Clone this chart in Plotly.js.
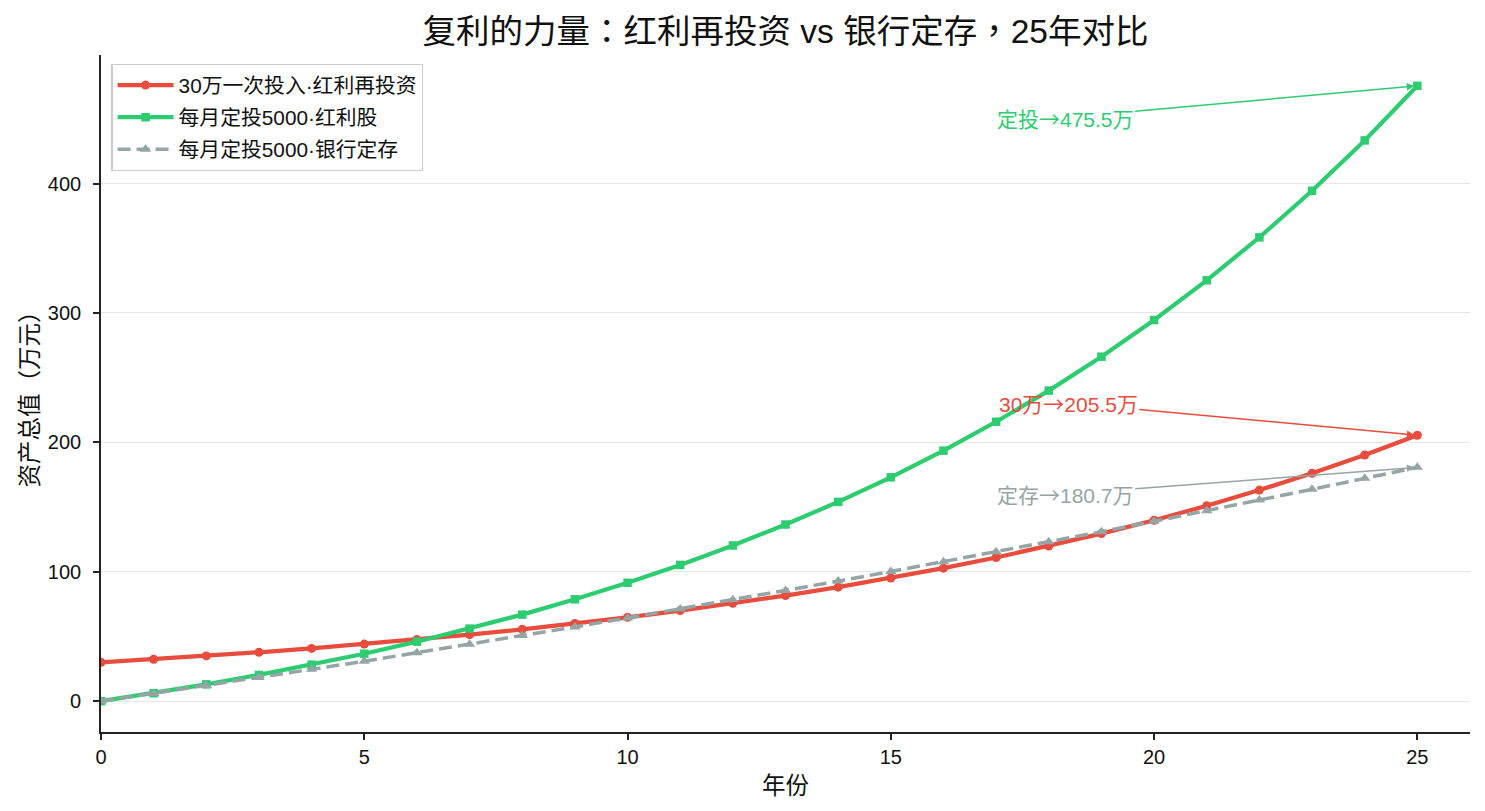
<!DOCTYPE html>
<html><head><meta charset="utf-8">
<script src="https://cdn.plot.ly/plotly-3.0.1.min.js"></script>
<style>body{margin:0;background:#fff}#c{width:1485px;height:811px}</style>
</head><body><div id="c"></div>
<script>
const years = [0,1,2,3,4,5,6,7,8,9,10,11,12,13,14,15,16,17,18,19,20,21,22,23,24,25];
const lumpSum = [30.0,32.4,35.0,37.8,40.8,44.1,47.6,51.4,55.5,60.0,64.8,70.0,75.6,81.6,88.1,95.2,102.8,111.0,119.9,129.5,139.8,151.0,163.1,176.2,190.2,205.5];
const dividendDCA = [0.0,6.2,13.0,20.3,28.2,36.7,46.0,56.1,66.9,78.7,91.5,105.3,120.3,136.5,154.0,173.0,193.6,215.9,240.0,266.2,294.5,325.2,358.4,394.4,433.3,475.5];
const bankDCA = [0.0,6.0,12.1,18.3,24.6,30.9,37.4,44.0,50.7,57.4,64.3,71.3,78.4,85.5,92.8,100.2,107.8,115.4,123.2,131.0,139.0,147.1,155.4,163.7,172.2,180.7];
const seriesNames = ['30万一次投入·红利再投资','每月定投5000·红利股','每月定投5000·银行定存'];
const labels = ['定投→475.5万','30万→205.5万','定存→180.7万'];
const chartTitle = '复利的力量：红利再投资 vs 银行定存，25年对比';
const colors = ['#e74c3c','#2ecc71','#95a5a6'];

const FONT = 'Liberation Sans, Arial, "Noto Sans CJK SC", sans-serif';
const CJK = 'Noto Sans CJK SC';
const CJKTC = 'Noto Sans CJK TC';
const traces = [
  {x: years, y: lumpSum, name: seriesNames[0], legendgroup: 'a', mode: 'lines+markers',
   line: {color: colors[0], width: 4.2}, marker: {symbol: 'circle', size: 9, color: colors[0]}},
  {x: years, y: dividendDCA, name: seriesNames[1], legendgroup: 'b', mode: 'lines+markers',
   line: {color: colors[1], width: 4.2}, marker: {symbol: 'square', size: 8.5, color: colors[1]}},
  {x: years, y: bankDCA, name: seriesNames[2], legendgroup: 'c', mode: 'lines+markers',
   line: {color: colors[2], width: 3.5, dash: '13px,6px'}, marker: {symbol: 'triangle-up', size: 10, color: colors[2]}}
];
const last = years.length - 1;
function fmt(t){ return t.replace('→', '<span style="font-family:' + CJK + '">→</span>'); }
function punct(t){ return t.replace(/([：，])/g, '<span style="font-family:' + CJKTC + '">$1</span>'); }
function ann(text, yv, ax, ay, color){
  return {x: years[last], y: yv, xref: 'x', yref: 'y', ax: ax, ay: ay, axref: 'x', ayref: 'y',
    text: fmt(text), showarrow: true, arrowhead: 2, arrowsize: 1, arrowwidth: 1.5, arrowcolor: color,
    font: {family: FONT, size: 21, color: color}, standoff: 3};
}
const layout = {
  width: 1485, height: 811,
  paper_bgcolor: '#fff', plot_bgcolor: '#fff',
  margin: {l: 101, r: 15, t: 55, b: 79},
  font: {family: FONT, color: '#222'},
  title: {text: punct(chartTitle), xref: 'paper', x: 0.5, xanchor: 'center', y: 0.961, yanchor: 'middle',
    font: {family: FONT, size: 33.5, color: '#111'}},
  showlegend: true,
  legend: {x: 0.0075, y: 0.987, xanchor: 'left', yanchor: 'top', bgcolor: 'rgba(255,255,255,0.9)',
    bordercolor: '#cccccc', borderwidth: 1.3, font: {family: FONT, size: 20.8, color: '#111'},
    tracegroupgap: 2, itemwidth: 56},
  xaxis: {range: [0, 26], tickvals: [0,5,10,15,20,25], showgrid: false, zeroline: false,
    showline: true, linecolor: '#222', linewidth: 1.6, ticks: 'outside', ticklen: 6, tickwidth: 1.5, tickcolor: '#222',
    tickfont: {family: FONT, size: 20, color: '#111'},
    title: {text: '年份', font: {family: FONT, size: 23.5, color: '#111'}, standoff: 11}},
  yaxis: {range: [-23.8, 499.3], tickvals: [0,100,200,300,400], showgrid: true, gridcolor: '#e6e6e6', gridwidth: 1.4,
    zeroline: false, showline: true, linecolor: '#222', linewidth: 1.6, ticks: 'outside', ticklen: 6, tickwidth: 1.5, tickcolor: '#222',
    tickfont: {family: FONT, size: 20, color: '#111'}, ticklabelstandoff: 8,
    title: {text: '资产总值（万元）', font: {family: FONT, size: 23.5, color: '#111'}, standoff: 3}},
  annotations: [
    ann(labels[0], dividendDCA[last], 18.31, 451, colors[1]),
    ann(labels[1], lumpSum[last], 18.37, 230.5, colors[0]),
    ann(labels[2], bankDCA[last], 18.31, 160, colors[2])
  ]
};
Plotly.newPlot('c', traces, layout, {displayModeBar: false});
</script></body></html>
